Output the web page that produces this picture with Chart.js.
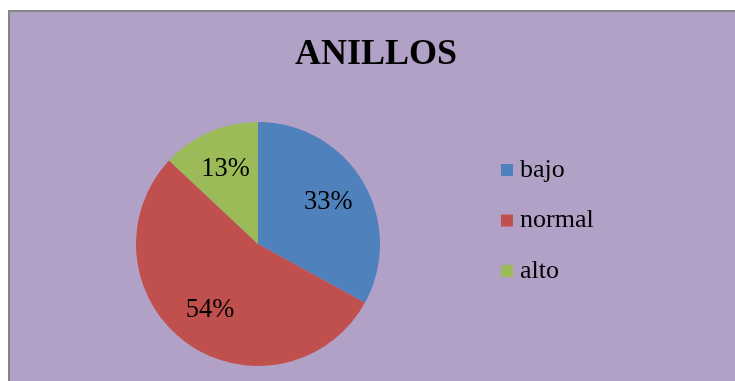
<!DOCTYPE html>
<html>
<head>
<meta charset="utf-8">
<script src="https://cdn.jsdelivr.net/npm/chart.js@4"></script>
<style>
  html, body { margin: 0; padding: 0; background: #ffffff; overflow: hidden; }
  #frame {
    position: absolute; left: 8px; top: 10px; width: 760px; height: 400px;
    border-left: 2px solid #858585; border-top: 2px solid #858585;
    background: #B2A1C7;
  }
  #wrap { position: absolute; left: 0; top: 0; width: 735px; height: 381px; }
</style>
</head>
<body>
<div id="frame"></div>
<div id="wrap"><canvas id="chart" width="735" height="381"></canvas></div>
<script>
// Ring counts by level
const chartTitle = 'ANILLOS';
const categories = ['bajo', 'normal', 'alto'];
const values = [33, 54, 13];
const sliceColors = ['#4F81BD', '#C0504D', '#9BBB59'];

const SERIF = '"Liberation Serif", "Times New Roman", serif';

// Percent labels inside each slice, title and the legend on the right
const decorations = {
  id: 'decorations',
  afterDatasetsDraw(chart) {
    const ctx = chart.ctx;
    const meta = chart.getDatasetMeta(0);
    const data = chart.data.datasets[0].data;
    const total = data.reduce((a, b) => a + b, 0);
    ctx.save();
    ctx.font = '26.5px ' + SERIF;
    ctx.fillStyle = '#000000';
    ctx.textAlign = 'center';
    ctx.textBaseline = 'middle';
    meta.data.forEach((arc, i) => {
      const p = arc.getProps(['x', 'y', 'startAngle', 'endAngle', 'outerRadius'], true);
      const mid = (p.startAngle + p.endAngle) / 2;
      const r = p.outerRadius * 0.67;
      const pct = Math.round(data[i] / total * 100) + '%';
      ctx.fillText(pct, p.x + Math.cos(mid) * r, p.y + Math.sin(mid) * r);
    });
    ctx.restore();
  },
  afterDraw(chart) {
    const ctx = chart.ctx;
    ctx.save();
    // title
    ctx.font = 'bold 36px ' + SERIF;
    ctx.fillStyle = '#000000';
    ctx.textAlign = 'center';
    ctx.textBaseline = 'middle';
    ctx.fillText(chartTitle, 376, 54.5);
    // legend
    const colors = chart.data.datasets[0].backgroundColor;
    ctx.font = '26px ' + SERIF;
    ctx.textAlign = 'left';
    chart.data.labels.forEach((label, i) => {
      const cy = 170 + i * 50.5;
      ctx.fillStyle = colors[i];
      ctx.fillRect(501, cy - 6, 12, 12);
      ctx.fillStyle = '#000000';
      ctx.fillText(label, 520, cy);
    });
    ctx.restore();
  }
};

new Chart(document.getElementById('chart'), {
  type: 'pie',
  data: {
    labels: categories,
    datasets: [{
      data: values,
      backgroundColor: sliceColors,
      borderWidth: 0
    }]
  },
  options: {
    responsive: false,
    animation: false,
    layout: { padding: { left: 136, right: 355, top: 122, bottom: 15 } },
    plugins: {
      legend: { display: false },
      title: { display: false },
      tooltip: { enabled: false }
    }
  },
  plugins: [decorations]
});
</script>
</body>
</html>
